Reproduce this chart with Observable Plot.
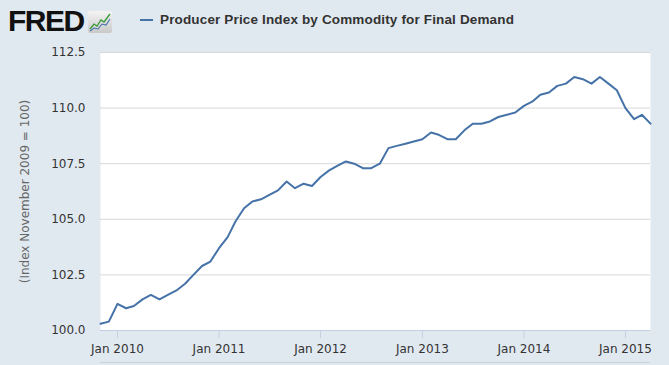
<!DOCTYPE html>
<html>
<head>
<meta charset="utf-8">
<script src="https://cdn.jsdelivr.net/npm/d3@7"></script>
<script src="https://cdn.jsdelivr.net/npm/@observablehq/plot@0.6"></script>
<style>
  html, body { margin: 0; padding: 0; background: #e1e9f0; }
  #wrap { position: relative; width: 669px; height: 365px; overflow: hidden; background: #e1e9f0; }
  #header { position: absolute; left: 0; top: 0; width: 669px; height: 40px; }
  #logo { position: absolute; left: 8px; top: 4px; font-family: "Liberation Sans", Arial, sans-serif; font-weight: 900; font-size: 30px; letter-spacing: -1.5px; color: #111; line-height: 34px; }
  #icon { position: absolute; left: 88px; top: 11px; }
  #legline { position: absolute; left: 140px; top: 19px; width: 13px; height: 2px; background: #4572a7; }
  #legtext { position: absolute; left: 160px; top: 11px; font-family: "Liberation Sans", Arial, sans-serif; font-weight: bold; font-size: 13.5px; letter-spacing: 0.15px; color: #333; line-height: 17px; white-space: nowrap; }
  #chart { position: absolute; left: 0; top: 40px; }
  #nav { position: absolute; left: 100px; top: 362px; width: 550px; height: 3px; border-top: 1px solid #c8d2dc; }
</style>
</head>
<body>
<div id="wrap">
  <div id="header">
    <div id="logo">FRED</div>
    <svg id="icon" width="24" height="22" viewBox="0 0 24 22">
      <defs><linearGradient id="g" x1="0" y1="0" x2="0" y2="1"><stop offset="0" stop-color="#f4f4f4"/><stop offset="1" stop-color="#c9c9c9"/></linearGradient></defs>
      <rect x="0" y="0" width="24" height="22" rx="2" fill="url(#g)"/>
      <polyline points="2,18 6,13 9,15 13,9 16,11 22,3" fill="none" stroke="#3a9a3a" stroke-width="1.3"/>
      <polyline points="2,20 6,17 10,18 14,13 18,14 22,8" fill="none" stroke="#4572a7" stroke-width="1.1"/>
    </svg>
    <div id="legline"></div>
    <div id="legtext">Producer Price Index by Commodity for Final Demand</div>
  </div>
  <div id="chart"></div>
  <div id="nav"></div>
</div>
<script>
// Monthly values, Nov 2009 .. Apr 2015 (Index November 2009 = 100)
const startMonth = "2009-11-01";
const values = [
  100.3, 100.4,
  101.2, 101.0, 101.1, 101.4, 101.6, 101.4, 101.6, 101.8, 102.1, 102.5, 102.9, 103.1,
  103.7, 104.2, 104.9, 105.5, 105.8, 105.9, 106.1, 106.3, 106.7, 106.4, 106.6, 106.5,
  106.9, 107.2, 107.4, 107.6, 107.5, 107.3, 107.3, 107.5, 108.2, 108.3, 108.4, 108.5,
  108.6, 108.9, 108.8, 108.6, 108.6, 109.0, 109.3, 109.3, 109.4, 109.6, 109.7, 109.8,
  110.1, 110.3, 110.6, 110.7, 111.0, 111.1, 111.4, 111.3, 111.1, 111.4, 111.1, 110.8,
  110.0, 109.5, 109.7, 109.3
];
const yTicks = [100.0, 102.5, 105.0, 107.5, 110.0, 112.5];
const xTickYears = [2010, 2011, 2012, 2013, 2014, 2015];
const yLabel = "(Index November 2009 = 100)";

const start = new Date(startMonth + "T00:00:00Z");
const data = values.map((v, i) => ({ date: d3.utcMonth.offset(start, i), value: v }));
const xTicks = xTickYears.map(y => new Date(Date.UTC(y, 0, 1)));

const chart = Plot.plot({
  width: 669,
  height: 325,
  marginTop: 12,
  marginBottom: 35,
  marginLeft: 100,
  marginRight: 19,
  style: { background: "transparent", fontFamily: "DejaVu Sans, Verdana, sans-serif", fontSize: "12px", color: "#333" },
  x: { type: "utc", domain: [data[0].date, data[data.length - 1].date] },
  y: { domain: [100, 112.5] },
  marks: [
    Plot.frame({ fill: "white", stroke: null }),
    Plot.gridY(yTicks, { stroke: "#d8d8d8", strokeOpacity: 1 }),
    Plot.ruleY([100], { stroke: "#c0d0e0", strokeWidth: 1 }),
    Plot.axisY(yTicks, { tickSize: 0, tickPadding: 15, tickFormat: d => d.toFixed(1), label: null, fill: "#333" }),
    Plot.axisX(xTicks, { tickSize: 8, tickPadding: 6, tickFormat: d3.utcFormat("%b %Y"), label: null, stroke: "#c0d0e0", fill: "#333" }),
    Plot.text([yLabel], { frameAnchor: "left", textAnchor: "middle", rotate: -90, dx: -75, fill: "#666", fontSize: 12 }),
    Plot.line(data, { x: "date", y: "value", stroke: "#4572a7", strokeWidth: 2 })
  ]
});
document.getElementById("chart").appendChild(chart);
</script>
</body>
</html>
